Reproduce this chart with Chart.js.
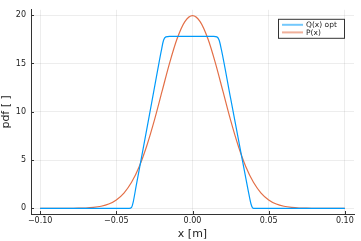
<!DOCTYPE html>
<html>
<head>
<meta charset="utf-8">
<script src="https://cdn.jsdelivr.net/npm/chart.js@4/dist/chart.umd.min.js"></script>
<style>
  html, body { margin: 0; padding: 0; background: #fff; }
  #wrap { width: 361px; height: 241px; }
</style>
</head>
<body>
<div id="wrap"><canvas id="pdfChart" width="361" height="241"></canvas></div>
<script>
// values
const pX = [-0.100, -0.095, -0.090, -0.085, -0.080, -0.075, -0.070, -0.065, -0.060, -0.055,
            -0.050, -0.045, -0.040, -0.035, -0.030, -0.025, -0.020, -0.015, -0.010, -0.005,
             0.000,  0.005,  0.010,  0.015,  0.020,  0.025,  0.030,  0.035,  0.040,  0.045,
             0.050,  0.055,  0.060,  0.065,  0.070,  0.075,  0.080,  0.085,  0.090,  0.095, 0.100];
const pY = [0, 0, 0, 0, 0.01, 0.02, 0.04, 0.10, 0.22, 0.45,
            0.88, 1.59, 2.70, 4.31, 6.48, 9.13, 12.10, 15.06, 17.60, 19.33,
            19.95, 19.33, 17.60, 15.06, 12.10, 9.13, 6.48, 4.31, 2.70, 1.59,
            0.88, 0.45, 0.22, 0.10, 0.04, 0.02, 0.01, 0, 0, 0, 0];

const qX = [-0.100, -0.060, -0.0415, -0.0400, -0.0390, -0.0370, -0.0300, -0.0230, -0.0205, -0.0190,
            -0.0175, -0.0150, 0.0000, 0.0140, 0.0160, 0.0175, 0.0190, 0.0250, 0.0320, 0.0365,
             0.0385, 0.0395, 0.0410, 0.060, 0.100];
const qY = [0, 0, 0, 0.1, 0.6, 2.3, 8.2, 14.2, 16.3, 17.4,
            17.75, 17.8, 17.8, 17.8, 17.75, 17.4, 16.4, 11.4, 5.6, 1.9,
            0.4, 0.05, 0, 0, 0];

const seriesNames = ['Q(x) opt', 'P(x)'];
const xTicks = [-0.10, -0.05, 0.00, 0.05, 0.10];
const yTicks = [0, 5, 10, 15, 20];

const blue = 'rgb(0,154,250)';
const orange = 'rgb(227,111,71)';

const toPoints = (xs, ys) => xs.map((x, i) => ({ x: x, y: ys[i] }));
const fmtX = v => (v < 0 ? '\u2212' : '') + Math.abs(v).toFixed(2);

// small inward ticks like the reference
const innerTicks = {
  id: 'innerTicks',
  afterDatasetsDraw(chart) {
    const { ctx, chartArea, scales } = chart;
    ctx.save();
    ctx.strokeStyle = '#333';
    ctx.lineWidth = 1;
    xTicks.forEach(v => {
      const px = Math.round(scales.x.getPixelForValue(v)) + 0.5;
      ctx.beginPath();
      ctx.moveTo(px, chartArea.bottom);
      ctx.lineTo(px, chartArea.bottom - 3);
      ctx.stroke();
    });
    yTicks.forEach(v => {
      const py = Math.round(scales.y.getPixelForValue(v)) + 0.5;
      ctx.beginPath();
      ctx.moveTo(chartArea.left, py);
      ctx.lineTo(chartArea.left + 3, py);
      ctx.stroke();
    });
    ctx.restore();
  }
};

// legend box drawn inside the plot, top right
const boxLegend = {
  id: 'boxLegend',
  afterDraw(chart) {
    const ctx = chart.ctx;
    const right = chart.chartArea.right - 10;
    const top = chart.chartArea.top + 9;
    const w = 66, h = 19;
    const left = right - w;
    ctx.save();
    ctx.fillStyle = '#fff';
    ctx.fillRect(left, top, w, h);
    ctx.strokeStyle = '#333';
    ctx.lineWidth = 1;
    ctx.strokeRect(left + 0.5, top + 0.5, w, h);
    ctx.font = '7.5px "DejaVu Sans"';
    ctx.textBaseline = 'middle';
    chart.data.datasets.forEach((ds, i) => {
      const y = top + 6 + i * 7.6;
      ctx.strokeStyle = ds.borderColor;
      ctx.globalAlpha = 0.55;
      ctx.lineWidth = 2;
      ctx.beginPath();
      ctx.moveTo(left + 4, y);
      ctx.lineTo(left + 25, y);
      ctx.stroke();
      ctx.globalAlpha = 1;
      ctx.fillStyle = '#222';
      ctx.fillText(ds.label, left + 28, y + 0.5);
    });
    ctx.restore();
  }
};

new Chart(document.getElementById('pdfChart'), {
  type: 'line',
  data: {
    datasets: [
      {
        label: seriesNames[0],
        data: toPoints(qX, qY),
        borderColor: blue,
        borderWidth: 1.2,
        pointRadius: 0,
        cubicInterpolationMode: 'monotone'
      },
      {
        label: seriesNames[1],
        data: toPoints(pX, pY),
        borderColor: orange,
        borderWidth: 1.2,
        pointRadius: 0,
        cubicInterpolationMode: 'monotone'
      }
    ]
  },
  options: {
    responsive: false,
    animation: false,
    layout: { padding: { top: 7, right: 7, left: 0, bottom: 0 } },
    plugins: {
      legend: { display: false },
      tooltip: { enabled: false }
    },
    scales: {
      x: {
        type: 'linear',
        min: -0.106,
        max: 0.106,
        afterBuildTicks: s => { s.ticks = xTicks.map(v => ({ value: v })); },
        afterFit: s => { s.height = 27; },
        ticks: {
          callback: v => fmtX(v),
          font: { family: 'DejaVu Sans', size: 8 },
          color: '#222',
          maxRotation: 0,
          padding: 2
        },
        grid: { color: 'rgba(0,0,0,0.07)', drawTicks: false },
        border: { color: '#333', width: 1 },
        title: {
          display: true,
          text: 'x [m]',
          font: { family: 'DejaVu Sans', size: 11 },
          color: '#222',
          padding: { top: 1, bottom: 0 }
        }
      },
      y: {
        min: -0.58,
        max: 20.55,
        afterBuildTicks: s => { s.ticks = yTicks.map(v => ({ value: v })); },
        afterFit: s => { s.width = 31; },
        ticks: {
          font: { family: 'DejaVu Sans', size: 8 },
          color: '#222',
          padding: 5
        },
        grid: { color: 'rgba(0,0,0,0.07)', drawTicks: false },
        border: { color: '#333', width: 1 },
        title: {
          display: true,
          text: 'pdf [ ]',
          font: { family: 'DejaVu Sans', size: 11 },
          color: '#222',
          padding: { top: 0, bottom: 0 }
        }
      }
    }
  },
  plugins: [innerTicks, boxLegend]
});
</script>
</body>
</html>
